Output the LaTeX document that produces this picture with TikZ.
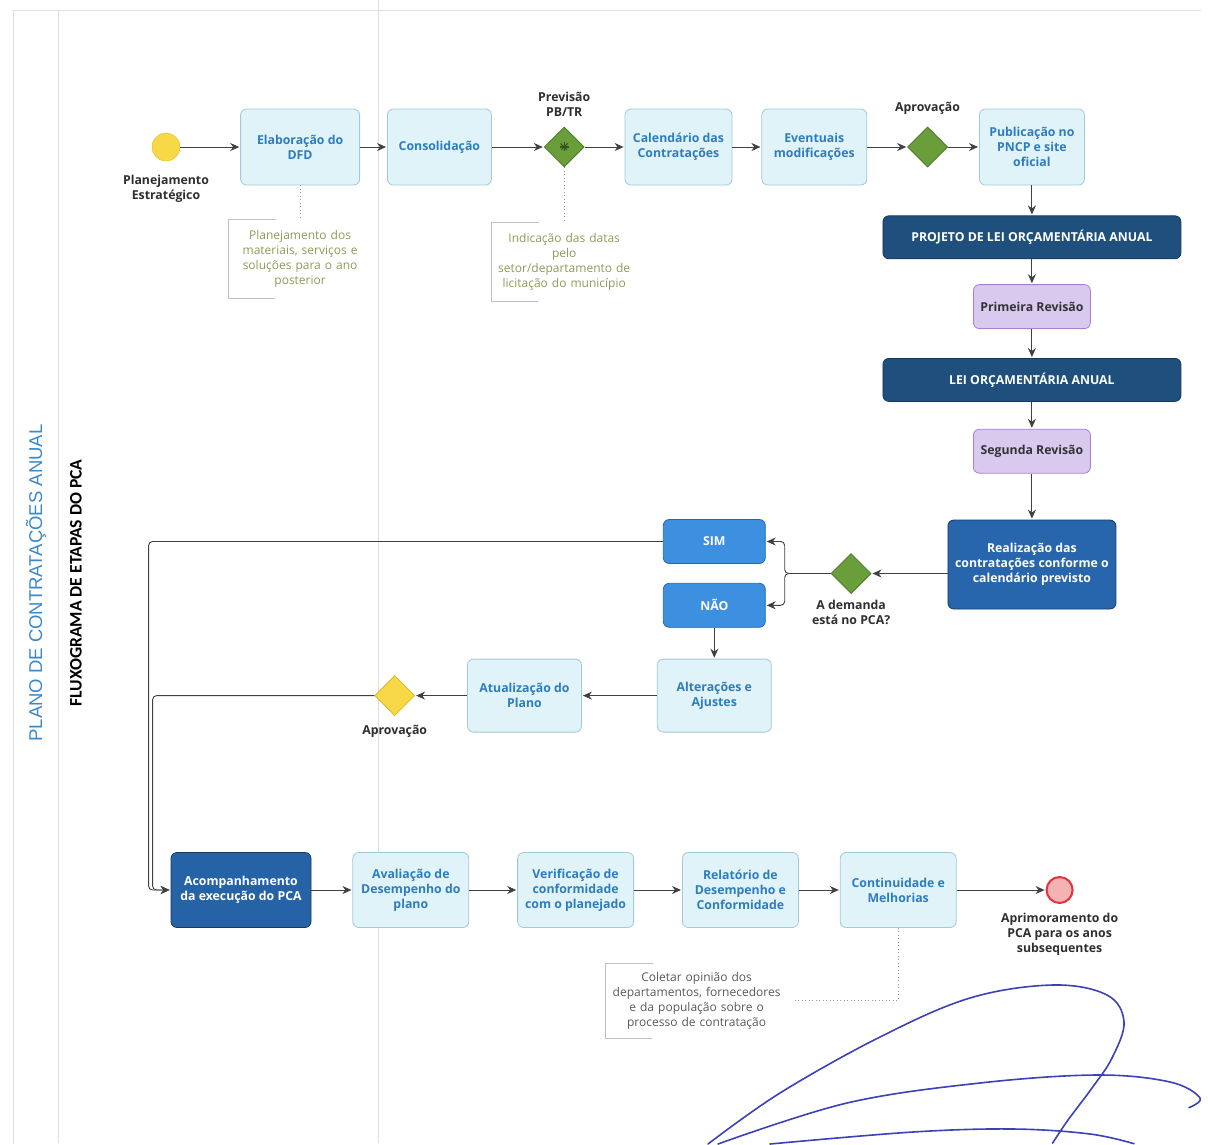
\documentclass[tikz,border=0pt]{standalone}
\usepackage{fontspec}
\setmainfont{Open Sans}
\newfontfamily\titlefont{Liberation Sans}
\newfontfamily\subfont{Carlito}
\usepackage{tikz}
\usetikzlibrary{
        arrows.meta,
        positioning,
        shapes.geometric
    }
\definecolor{boxfill}{HTML}{E0F3F8}
\definecolor{boxline}{HTML}{9FCBD8}
\definecolor{boxtext}{HTML}{2D7CC0}
\definecolor{navy}{HTML}{1E4F7D}
\definecolor{navyline}{HTML}{163A5E}
\definecolor{midblue}{HTML}{2766AD}
\definecolor{brightblue}{HTML}{3D8FDF}
\definecolor{lavender}{HTML}{D9C9EF}
\definecolor{lavline}{HTML}{A583CB}
\definecolor{gatefill}{HTML}{6A9E3A}
\definecolor{gateline}{HTML}{4B7A29}
\definecolor{sunfill}{HTML}{F7D948}
\definecolor{sunline}{HTML}{E2B824}
\definecolor{endfill}{HTML}{F5B2B2}
\definecolor{endline}{HTML}{E2323C}
\definecolor{flow}{HTML}{404040}
\definecolor{notegreen}{HTML}{8C9B57}
\definecolor{titleblue}{HTML}{3A87C9}
\definecolor{sigblue}{HTML}{3C41B5}
\tikzset{>={Stealth[length=9pt,width=8pt]},shorten >=1pt,auto,node distance=30pt}

\begin{document}
\begin{tikzpicture}[x=1pt,y=-1pt,
        font=\bfseries\fontsize{12.3}{15}\selectfont,
        every edge/.style={draw=flow,line width=0.9pt},
        task/.style={draw=boxline,fill=boxfill,text=boxtext,rounded corners=6pt,
            align=center,minimum height=76pt,inner sep=2pt,line width=0.8pt},
        law/.style={draw=navyline,fill=navy,text=white,rounded corners=6pt,
            minimum width=298pt,minimum height=43pt,line width=0.8pt},
        rev/.style={draw=lavline,fill=lavender,text=black!80,rounded corners=6pt,
            minimum width=117pt,minimum height=44pt,line width=0.8pt},
        exec/.style={draw=navyline,fill=midblue,text=white,rounded corners=6pt,
            align=center,minimum width=168pt,minimum height=89pt,line width=0.8pt},
        choice/.style={draw=midblue,fill=brightblue,text=white,rounded corners=6pt,
            minimum width=102pt,minimum height=44pt,line width=0.8pt},
        gate/.style={diamond,draw=gateline,fill=gatefill,minimum size=40pt,
            inner sep=0pt,line width=0.8pt},
        lbl/.style={align=center,text=black!82,label distance=3pt},
        note/.style={align=center,font=\fontsize{12}{15}\selectfont,
            inner xsep=6pt,minimum height=78pt},
        bracket/.style={draw=black!25,line width=0.6pt},
        link/.style={draw=black!40,line width=0.9pt,dash pattern=on 1pt off 2.5pt},
        loop/.style={->,draw=flow,line width=0.9pt,rounded corners=4pt},
        lane/.style={draw=black!13,line width=0.6pt},
        sig/.style={draw=sigblue,line width=1.6pt,line cap=round}
    ]
    \useasboundingbox (0,0) rectangle (1208,1144);

    % lanes
    \draw[lane] (13,1144) -- (13,10) -- (1202,10);
    \draw[lane] (58,10) -- (58,1144);
    \draw[lane] (378,0) -- (378,1144);
    \node[rotate=90,font=\titlefont\fontsize{18.5}{20}\selectfont,text=titleblue] (title) at (36,583) {PLANO DE CONTRATAÇÕES ANUAL};
    \node[rotate=90,font=\subfont\bfseries\fontsize{17.6}{19}\selectfont] (sub) at (76,583) {FLUXOGRAMA DE ETAPAS DO PCA};

    % primeira linha
    \node[circle,draw=sunline,fill=sunfill,minimum size=28pt,inner sep=0pt,
        label={[lbl,label distance=10pt]below:{Planejamento\\Estratégico}}] (ini) at (166,147) {};
    \node[task,minimum width=119pt,right=60pt of ini] (dfd) {Elaboração do\\DFD};
    \node[task,minimum width=104pt,right=27pt of dfd] (cons) {Consolidação};
    \node[gate,right=52pt of cons,label={[lbl,label distance=7pt]above:{Previsão\\PB/TR}}] (prev) {};
    \foreach \a in {0,45,90,135}
        \draw[draw=gateline!70!black,line width=1.1pt] ([shift={(\a:5pt)}]prev.center) -- ([shift={(\a+180:5pt)}]prev.center);
    \node[task,minimum width=107pt,right=40pt of prev] (cal) {Calendário das\\Contratações};
    \node[task,minimum width=105pt,right=29pt of cal] (mod) {Eventuais\\modificações};
    \node[gate,right=40pt of mod,label={[lbl,label distance=9pt]above:Aprovação}] (apr) {};
    \node[task,minimum width=105pt,right=31pt of apr] (pub) {Publicação no\\PNCP e site\\oficial};

    % coluna da direita
    \node[law,below=30pt of pub] (ploa) {PROJETO DE LEI ORÇAMENTÁRIA ANUAL};
    \node[rev,below=25pt of ploa] (rev1) {Primeira Revisão};
    \node[law,below=29pt of rev1] (loa) {LEI ORÇAMENTÁRIA ANUAL};
    \node[rev,below=27pt of loa] (rev2) {Segunda Revisão};
    \node[exec,below=46pt of rev2] (real) {Realização das\\contratações conforme o\\calendário previsto};

    % decisao
    \node[gate,left=76pt of real,yshift=-9pt,label={[lbl]below:{A demanda\\está no PCA?}}] (dem) {};
    \node[choice,left=65pt of dem,yshift=32pt] (sim) {SIM};
    \node[choice,below=19pt of sim] (nao) {NÃO};
    \node[task,minimum width=114pt,minimum height=73pt,below=31pt of nao] (alt) {Alterações e\\Ajustes};
    \node[task,minimum width=114pt,minimum height=73pt,left=75pt of alt] (atu) {Atualização do\\Plano};
    \node[gate,draw=sunline,fill=sunfill,left=52pt of atu,label={[lbl,label distance=6pt]below:Aprovação}] (apr2) {};

    % ultima linha
    \node[task,draw=navyline,fill=midblue!85!navy,text=white,minimum width=140pt,minimum height=75pt] (acomp) at (241,890) {Acompanhamento\\da execução do PCA};
    \node[task,minimum width=116pt,minimum height=75pt,right=41pt of acomp] (aval) {Avaliação de\\Desempenho do\\plano};
    \node[task,minimum width=116pt,minimum height=75pt,right=48pt of aval] (verif) {Verificação de\\conformidade\\com o planejado};
    \node[task,minimum width=116pt,minimum height=75pt,right=48pt of verif] (rel) {Relatório de\\Desempenho e\\Conformidade};
    \node[task,minimum width=116pt,minimum height=75pt,right=41pt of rel] (cont) {Continuidade e\\Melhorias};
    \node[circle,draw=endline,fill=endfill,line width=2pt,minimum size=26pt,inner sep=0pt,right=89pt of cont,
        label={[lbl,label distance=6pt]below:{Aprimoramento do\\PCA para os anos\\subsequentes}}] (fim) {};

    % notas
    \node[note,text=notegreen,text width=131pt,below=34pt of dfd] (n1) {Planejamento dos\\materiais, serviços e\\soluções para o ano\\posterior};
    \node[note,text=notegreen,text width=134pt,below=55pt of prev] (n2) {Indicação das datas\\pelo\\setor/departamento de\\licitação do município};
    \node[note,text=black!65,text width=170pt,minimum height=75pt,below left=35pt and 52pt of cont] (n3) {Coletar opinião dos\\departamentos, fornecedores\\e da população sobre o\\processo de contratação};
    \foreach \n in {n1,n2,n3}
        \draw[bracket] ([xshift=48pt]\n.north west) -- (\n.north west) -- (\n.south west) -- ([xshift=48pt]\n.south west);
    \draw[link] (dfd.south) -- (n1.north);
    \draw[link] (prev.south) -- (n2.north);
    \draw[link] (cont.south) |- ([xshift=6pt]n3.east);

    \path[->]
        (ini)   edge (dfd)
        (dfd)   edge (cons)
        (cons)  edge (prev)
        (prev)  edge (cal)
        (cal)   edge (mod)
        (mod)   edge (apr)
        (apr)   edge (pub)
        (pub)   edge (ploa)
        (ploa)  edge (rev1)
        (rev1)  edge (loa)
        (loa)   edge (rev2)
        (rev2)  edge (real)
        (real.west |- dem) edge (dem)
        (nao)   edge (alt)
        (alt)   edge (atu)
        (atu)   edge (apr2)
        (acomp) edge (aval)
        (aval)  edge (verif)
        (verif) edge (rel)
        (rel)   edge (cont)
        (cont)  edge (fim)
    ;
    \draw[loop] (dem.west) -- ++(-46pt,0) |- (sim.east);
    \draw[loop] (dem.west) -- ++(-46pt,0) |- (nao.east);
    \draw[loop] (sim.west) -| ([xshift=-22pt]acomp.west) -- (acomp.west);
    \draw[loop] (apr2.west) -| ([xshift=-18pt]acomp.west) -- (acomp.west);

    % assinatura
    \draw[sig] plot[smooth,tension=0.6] coordinates {(708,1144) (780,1093) (880,1037) (970,998) (1053,985) (1107,995) (1124,1022) (1112,1058) (1092,1088) (1068,1120) (1052,1144)};
    \draw[sig] plot[smooth,tension=0.6] coordinates {(718,1144) (847,1103) (980,1083) (1097,1075) (1170,1082) (1200,1098) (1188,1108)};
    \draw[sig] plot[smooth,tension=0.6] coordinates {(770,1144) (913,1132) (1013,1129) (1090,1134) (1135,1144)};
\end{tikzpicture}
\end{document}
